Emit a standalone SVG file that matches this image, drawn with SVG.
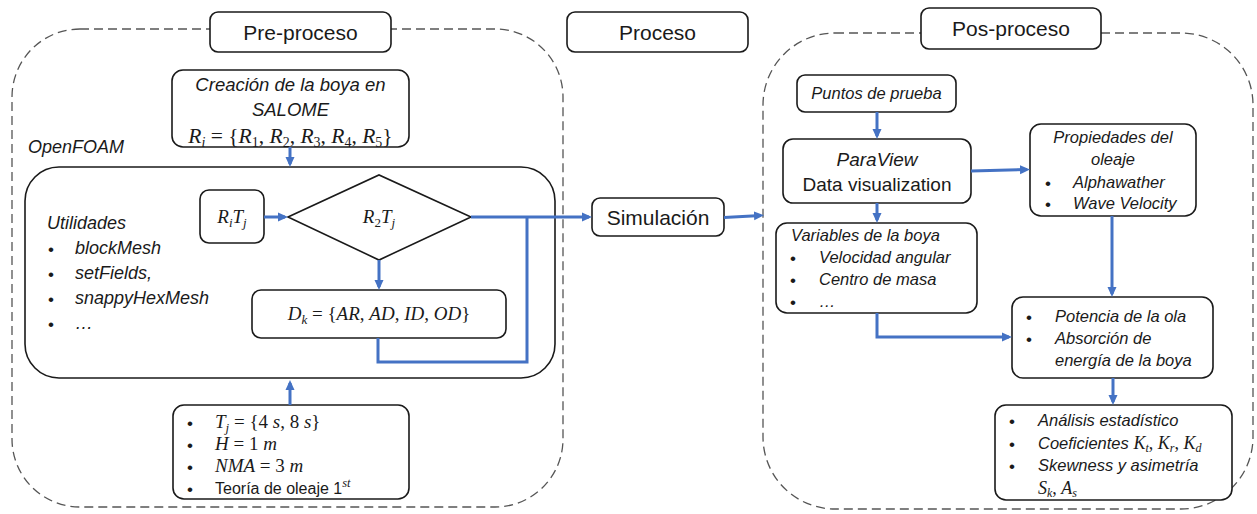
<svg xmlns="http://www.w3.org/2000/svg" width="1257" height="514" viewBox="0 0 1257 514">
<style>
.box{fill:#fff;stroke:#1a1a1a;stroke-width:1.6}
.dash{fill:none;stroke:#555;stroke-width:1.3;stroke-dasharray:9 5}
.conn{fill:none;stroke:#4472C4;stroke-width:3}
.t{font-family:"Liberation Sans",Arial,sans-serif;fill:#1a1a1a}
.i{font-family:"Liberation Sans",Arial,sans-serif;font-style:italic;fill:#1a1a1a}
.m{font-family:"Liberation Serif","Times New Roman",serif;font-style:italic;fill:#1a1a1a}
.u{font-style:normal}
.b{font-family:"Liberation Sans",Arial,sans-serif;fill:#1a1a1a;font-size:17px}
</style>
<defs>
<marker id="ah" markerUnits="userSpaceOnUse" markerWidth="11" markerHeight="10" refX="7" refY="5" orient="auto">
<path d="M0,0.5 L10,5 L0,9.5 z" fill="#4472C4"/>
</marker>
</defs>

<g id="preproceso-container">
<rect class="dash" x="12" y="29" width="551" height="478" rx="68" ry="68"/>
</g>
<g id="posproceso-container">
<rect class="dash" x="763" y="33" width="490" height="476" rx="72" ry="72"/>
</g>

<g id="label-preproceso">
<rect class="box" x="210" y="12" width="181" height="40" rx="8"/>
<text class="t" x="300.5" y="39.5" font-size="21" text-anchor="middle">Pre-proceso</text>
</g>
<g id="label-proceso">
<rect class="box" x="567" y="12" width="181" height="40" rx="8"/>
<text class="t" x="657.5" y="39.5" font-size="21" text-anchor="middle">Proceso</text>
</g>
<g id="label-posproceso">
<rect class="box" x="921" y="8" width="180" height="41" rx="8"/>
<text class="t" x="1011" y="36" font-size="21" text-anchor="middle">Pos-proceso</text>
</g>

<g id="creacion">
<rect class="box" x="172" y="70" width="237" height="77" rx="11"/>
<text class="i" x="290.5" y="91" font-size="18.5" text-anchor="middle">Creación de la boya en</text>
<text class="i" x="290.5" y="116" font-size="18.5" text-anchor="middle">SALOME</text>
<text class="m" x="290.5" y="143" font-size="21.5" text-anchor="middle">R<tspan font-size="14" dy="4">i</tspan><tspan class="u" dy="-4"> = {</tspan>R<tspan class="u" font-size="14" dy="4">1</tspan><tspan class="u" dy="-4">, </tspan>R<tspan class="u" font-size="14" dy="4">2</tspan><tspan class="u" dy="-4">, </tspan>R<tspan class="u" font-size="14" dy="4">3</tspan><tspan class="u" dy="-4">, </tspan>R<tspan class="u" font-size="14" dy="4">4</tspan><tspan class="u" dy="-4">, </tspan>R<tspan class="u" font-size="14" dy="4">5</tspan><tspan class="u" dy="-4">}</tspan></text>
</g>

<g id="openfoam">
<text class="i" x="28" y="153" font-size="18">OpenFOAM</text>
<rect class="box" x="25" y="167" width="530" height="211" rx="34"/>
<text class="i" x="47" y="229" font-size="18">Utilidades</text>
<text class="b" x="48" y="255">•</text><text class="i" x="75" y="254" font-size="18">blockMesh</text>
<text class="b" x="48" y="280">•</text><text class="i" x="75" y="279" font-size="18">setFields,</text>
<text class="b" x="48" y="305">•</text><text class="i" x="75" y="304" font-size="18">snappyHexMesh</text>
<text class="b" x="48" y="330">•</text><text class="i" x="75" y="329" font-size="18">…</text>
</g>

<g id="ritj">
<rect class="box" x="200" y="190" width="64" height="53" rx="9"/>
<text class="m" x="232" y="223" font-size="19" text-anchor="middle">R<tspan font-size="13" dy="4">i</tspan><tspan dy="-4">T</tspan><tspan font-size="13" dy="4">j</tspan></text>
</g>

<g id="r2tj">
<polygon class="box" points="288,217 379,175 471,217 379,260"/>
<text class="m" x="379" y="223" font-size="19" text-anchor="middle">R<tspan class="u" font-size="13" dy="4">2</tspan><tspan dy="-4">T</tspan><tspan font-size="13" dy="4">j</tspan></text>
</g>

<g id="dk">
<rect class="box" x="252" y="290" width="254" height="48" rx="9"/>
<text class="m" x="379" y="320" font-size="19" text-anchor="middle">D<tspan font-size="13" dy="4">k</tspan><tspan class="u" dy="-4"> = {</tspan>AR<tspan class="u">, </tspan>AD<tspan class="u">, </tspan>ID<tspan class="u">, </tspan>OD<tspan class="u">}</tspan></text>
</g>

<g id="parametros">
<rect class="box" x="173" y="405" width="236" height="94" rx="11"/>
<text class="b" x="187" y="429">•</text>
<text class="m" x="215" y="428" font-size="19">T<tspan font-size="13" dy="4">j</tspan><tspan class="u" dy="-4"> = {4 </tspan>s<tspan class="u">, 8 </tspan>s<tspan class="u">}</tspan></text>
<text class="b" x="187" y="451">•</text>
<text class="m" x="215" y="450" font-size="19">H<tspan class="u"> = 1 </tspan>m</text>
<text class="b" x="187" y="473">•</text>
<text class="m" x="215" y="472" font-size="19">NMA<tspan class="u"> = 3 </tspan>m</text>
<text class="b" x="187" y="495">•</text>
<text class="t" x="215" y="494" font-size="16">Teoría de oleaje 1<tspan class="m" font-size="12.5" dy="-7">st</tspan></text>
</g>

<g id="simulacion">
<rect class="box" x="592" y="198" width="132" height="38" rx="8"/>
<text class="t" x="658" y="224.5" font-size="21" text-anchor="middle">Simulación</text>
</g>

<g id="puntos">
<rect class="box" x="797" y="75" width="159" height="37" rx="8"/>
<text class="i" x="876.5" y="99" font-size="16.5" text-anchor="middle">Puntos de prueba</text>
</g>

<g id="paraview">
<rect class="box" x="783" y="139" width="188" height="64" rx="10"/>
<text class="i" x="877" y="166" font-size="19" text-anchor="middle">ParaView</text>
<text class="t" x="877" y="191" font-size="19" text-anchor="middle">Data visualization</text>
</g>

<g id="propiedades">
<rect class="box" x="1030" y="124" width="166" height="92" rx="11"/>
<text class="i" x="1113" y="143" font-size="16.5" text-anchor="middle">Propiedades del</text>
<text class="i" x="1113" y="165" font-size="16.5" text-anchor="middle">oleaje</text>
<text class="b" x="1045" y="189">•</text><text class="i" x="1073" y="188" font-size="16.5">Alphawather</text>
<text class="b" x="1045" y="210">•</text><text class="i" x="1073" y="209" font-size="16.5">Wave Velocity</text>
</g>

<g id="variables">
<rect class="box" x="776" y="223" width="201" height="90" rx="11"/>
<text class="i" x="791" y="241" font-size="16.5">Variables de la boya</text>
<text class="b" x="790" y="264">•</text><text class="i" x="819" y="263" font-size="16.5">Velocidad angular</text>
<text class="b" x="790" y="286">•</text><text class="i" x="819" y="285" font-size="16.5">Centro de masa</text>
<text class="b" x="790" y="308">•</text><text class="i" x="819" y="307" font-size="16.5">…</text>
</g>

<g id="potencia">
<rect class="box" x="1012" y="297" width="201" height="81" rx="11"/>
<text class="b" x="1026" y="323">•</text><text class="i" x="1055" y="322" font-size="16.5">Potencia de la ola</text>
<text class="b" x="1026" y="345">•</text><text class="i" x="1055" y="344" font-size="16.5">Absorción de</text>
<text class="i" x="1055" y="366" font-size="16.5">energía de la boya</text>
</g>

<g id="analisis">
<rect class="box" x="995" y="405" width="237" height="95" rx="11"/>
<text class="b" x="1009" y="427">•</text><text class="i" x="1038" y="426" font-size="16.5">Análisis estadístico</text>
<text class="b" x="1009" y="450">•</text><text class="i" x="1038" y="449" font-size="16.5">Coeficientes <tspan class="m" font-size="18">K<tspan font-size="12" dy="3">t</tspan><tspan class="u" dy="-3">, </tspan>K<tspan font-size="12" dy="3">r</tspan><tspan class="u" dy="-3">, </tspan>K<tspan font-size="12" dy="3">d</tspan></tspan></text>
<text class="b" x="1009" y="472">•</text><text class="i" x="1038" y="471" font-size="16.5">Skewness y asimetría</text>
<text class="m" x="1038" y="494" font-size="18">S<tspan font-size="12" dy="3">k</tspan><tspan class="u" dy="-3">, </tspan>A<tspan font-size="12" dy="3">s</tspan></text>
</g>

<g id="connectors">
<path class="conn" d="M290,147 L290,164" marker-end="url(#ah)"/>
<path class="conn" d="M290,405 L290,383" marker-end="url(#ah)"/>
<path class="conn" d="M264,217 L285,217" marker-end="url(#ah)"/>
<path class="conn" d="M379,260 L379,287" marker-end="url(#ah)"/>
<path class="conn" d="M378,338 L378,362 L527,362 L527,217"/>
<path class="conn" d="M471,217 L589,217" marker-end="url(#ah)"/>
<path class="conn" d="M724,217.5 L761,215.5" marker-end="url(#ah)"/>
<path class="conn" d="M877,112 L877,136" marker-end="url(#ah)"/>
<path class="conn" d="M971,171 L1027,169.5" marker-end="url(#ah)"/>
<path class="conn" d="M877,203 L877,220" marker-end="url(#ah)"/>
<path class="conn" d="M877,313 L877,337 L1009,337" marker-end="url(#ah)"/>
<path class="conn" d="M1112,216 L1112,294" marker-end="url(#ah)"/>
<path class="conn" d="M1113,378 L1113,402" marker-end="url(#ah)"/>
</g>
</svg>
